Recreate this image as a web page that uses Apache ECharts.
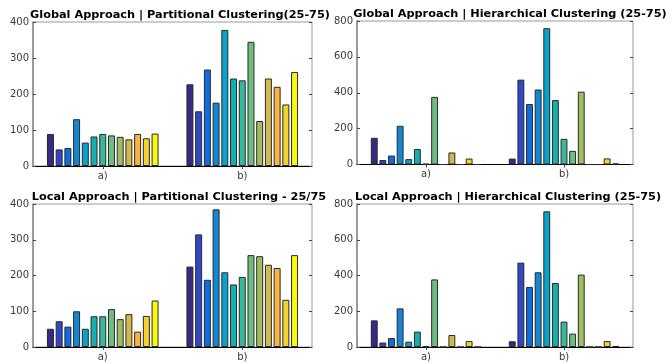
<!DOCTYPE html>
<html><head><meta charset="utf-8">
<script src="https://cdn.jsdelivr.net/npm/echarts@6/dist/echarts.min.js"></script>
<style>html,body{margin:0;padding:0;background:#fff}#c{width:670px;height:363px}</style>
</head><body><div id="c"></div>
<script>
const categories = ['a)', 'b)'];
const titles = [
  'Global Approach | Partitional Clustering(25-75)',
  'Global Approach | Hierarchical Clustering (25-75)',
  'Local Approach | Partitional Clustering - 25/75',
  'Local Approach | Hierarchical Clustering (25-75)'
];
// values per series (13 series) for group a) and group b)
const globalPartA = [89, 46, 50, 130, 65, 82, 89, 85, 81, 74, 89, 77, 90];
const globalPartB = [227, 152, 268, 176, 378, 243, 238, 345, 125, 243, 220, 171, 261];
const globalHierA = [149, 25, 50, 216, 30, 86, 4, 377, 0, 67, 0, 33, 0];
const globalHierB = [33, 473, 337, 418, 760, 359, 143, 76, 406, 0, 0, 34, 6];
const localPartA = [51, 72, 57, 100, 51, 86, 86, 106, 78, 92, 43, 87, 130];
const localPartB = [225, 315, 188, 385, 209, 175, 196, 257, 254, 230, 221, 132, 257];
const localHierA = [149, 25, 50, 216, 30, 86, 4, 378, 0, 67, 0, 33, 0];
const localHierB = [32, 472, 336, 418, 759, 358, 142, 75, 405, 0, 0, 33, 6];
const yMax = [400, 800, 400, 800];
const yInterval = [100, 200, 100, 200];

const colors = ['#352a87','#2e48c8','#0d6de1','#1387d3','#08a3cd','#16afb0','#37b99b',
                '#6cbf80','#a0be5f','#d2b94e','#fbb33b','#f4d32b','#f9fa0e'];

const panels = [
  [globalPartA, globalPartB],
  [globalHierA, globalHierB],
  [localPartA, localPartB],
  [localHierA, localHierB]
];
const grids = [
  {left: 33, top: 22, width: 279, height: 144},
  {left: 357, top: 21, width: 276, height: 143.5},
  {left: 33, top: 204, width: 279, height: 143},
  {left: 357, top: 204, width: 276, height: 143}
];
const titleCenters = [175, 505, 174, 503];
const font = 'DejaVu Sans';
const option = {
  animation: false,
  title: [], grid: [], xAxis: [], yAxis: [], series: []
};
grids.forEach((g, k) => {
  option.grid.push(Object.assign({show: true, borderColor: '#9a9a9a', borderWidth: 1, containLabel: false}, g));
  option.title.push({
    text: titles[k], left: titleCenters[k], top: g.top - 17, textAlign: 'center',
    textStyle: {fontFamily: font, fontWeight: 'bold', fontSize: 11.3, color: '#000'}
  });
  option.xAxis.push({
    type: 'category', gridIndex: k, data: categories, position: 'bottom',
    axisLine: {show: true, lineStyle: {color: '#000', width: 1}},
    axisTick: {show: false},
    axisLabel: {fontFamily: font, fontSize: 10, color: '#3a3a3a', margin: 5}
  });
  option.xAxis.push({
    type: 'category', gridIndex: k, data: categories, position: 'top',
    axisLine: {show: false}, axisLabel: {show: false},
    axisTick: {show: true, inside: true, alignWithLabel: true, length: 3, lineStyle: {color: '#444'}}
  });
  option.yAxis.push({
    type: 'value', gridIndex: k, min: 0, max: yMax[k], interval: yInterval[k], position: 'left',
    splitLine: {show: false},
    axisLine: {show: true, lineStyle: {color: '#8a8a8a', width: 1.5}},
    axisTick: {show: true, inside: true, length: 3, lineStyle: {color: '#444'}},
    axisLabel: {fontFamily: font, fontSize: 10, color: '#3a3a3a', margin: 4}
  });
  option.yAxis.push({
    type: 'value', gridIndex: k, min: 0, max: yMax[k], interval: yInterval[k], position: 'right',
    splitLine: {show: false},
    axisLine: {show: false},
    axisTick: {show: true, inside: true, length: 3, lineStyle: {color: '#444'}},
    axisLabel: {show: false}
  });
  const [A, B] = panels[k];
  A.forEach((v, i) => {
    option.series.push({
      type: 'bar', xAxisIndex: 2 * k, yAxisIndex: 2 * k,
      data: [A[i], B[i]],
      barCategoryGap: '20%', barGap: '25%',
      itemStyle: {color: colors[i], borderColor: '#2a2a2a', borderWidth: 1},
      emphasis: {disabled: true}
    });
  });
});
const chart = echarts.init(document.getElementById('c'), null, {renderer: 'canvas'});
chart.setOption(option);
</script></body></html>
